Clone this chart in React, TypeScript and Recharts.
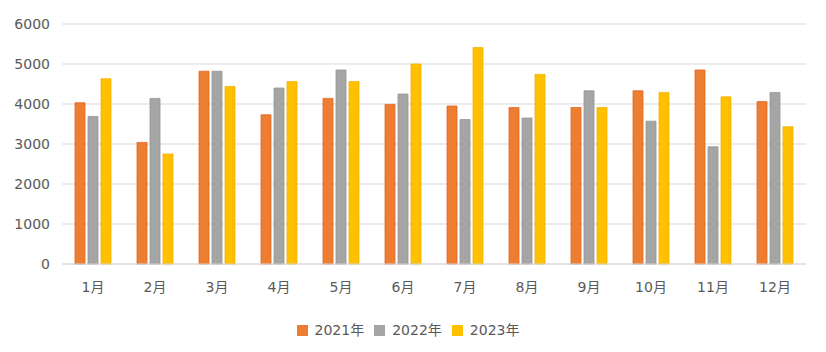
import React from 'react';
import { BarChart, Bar, XAxis, YAxis, CartesianGrid, Legend } from 'recharts';

const months = ['1月', '2月', '3月', '4月', '5月', '6月', '7月', '8月', '9月', '10月', '11月', '12月'];
const y2021 = [4030, 3040, 4820, 3730, 4140, 3990, 3950, 3910, 3910, 4330, 4850, 4060];
const y2022 = [3690, 4140, 4820, 4400, 4850, 4250, 3610, 3650, 4330, 3570, 2930, 4290];
const y2023 = [4630, 2750, 4440, 4560, 4560, 5000, 5410, 4740, 3910, 4290, 4180, 3430];
const yTicks = [0, 1000, 2000, 3000, 4000, 5000, 6000];

// 表格数据
const data = months.map((m, i) => ({
  month: m,
  '2021年': y2021[i],
  '2022年': y2022[i],
  '2023年': y2023[i],
}));

const FONT = '"DejaVu Sans", "Noto Sans CJK SC", sans-serif';
const TEXT = '#595959';

const renderLegend = (props: any) => {
  const { payload } = props;
  return (
    <div style={{ display: 'flex', justifyContent: 'center', fontFamily: FONT, fontSize: 14, color: TEXT, lineHeight: '20px' }}>
      {(payload ?? []).map((entry: any) => (
        <div key={entry.value} style={{ display: 'flex', alignItems: 'center', marginRight: 10 }}>
          <span style={{ width: 11, height: 11, background: entry.color, display: 'inline-block', marginRight: 7 }} />
          <span>{entry.value}</span>
        </div>
      ))}
    </div>
  );
};

export default function App() {
  return (
    <div style={{ width: 826, height: 352, background: '#fff', position: 'relative' }}>
      <style>{'body{margin:0}'}</style>
      <BarChart
        width={826}
        height={352}
        data={data}
        margin={{ top: 24, right: 20, bottom: 32, left: 0 }}
        barSize={10}
        barGap={3}
      >
        <CartesianGrid vertical={false} stroke="#d9d9d9" />
        <XAxis
          dataKey="month"
          height={36}
          tickSize={0}
          tickMargin={18}
          axisLine={{ stroke: '#d9d9d9' }}
          tick={{ fill: TEXT, fontSize: 14, fontFamily: FONT }}
        />
        <YAxis
          width={62}
          domain={[0, 6000]}
          ticks={yTicks}
          axisLine={false}
          tickLine={false}
          tickSize={0}
          tickMargin={12}
          tick={{ fill: TEXT, fontSize: 14, fontFamily: FONT }}
        />
        <Legend
          verticalAlign="bottom"
          height={20}
          content={renderLegend}
          wrapperStyle={{ position: 'absolute', top: 320, left: 0, width: 826, bottom: 'auto' }}
        />
        <Bar dataKey="2021年" fill="#ED7D31" stroke="#e2641f" strokeWidth={0.8} isAnimationActive={false} />
        <Bar dataKey="2022年" fill="#A5A5A5" stroke="#959595" strokeWidth={0.8} isAnimationActive={false} />
        <Bar dataKey="2023年" fill="#FFC000" stroke="#f5b000" strokeWidth={0.8} isAnimationActive={false} />
      </BarChart>
    </div>
  );
}
